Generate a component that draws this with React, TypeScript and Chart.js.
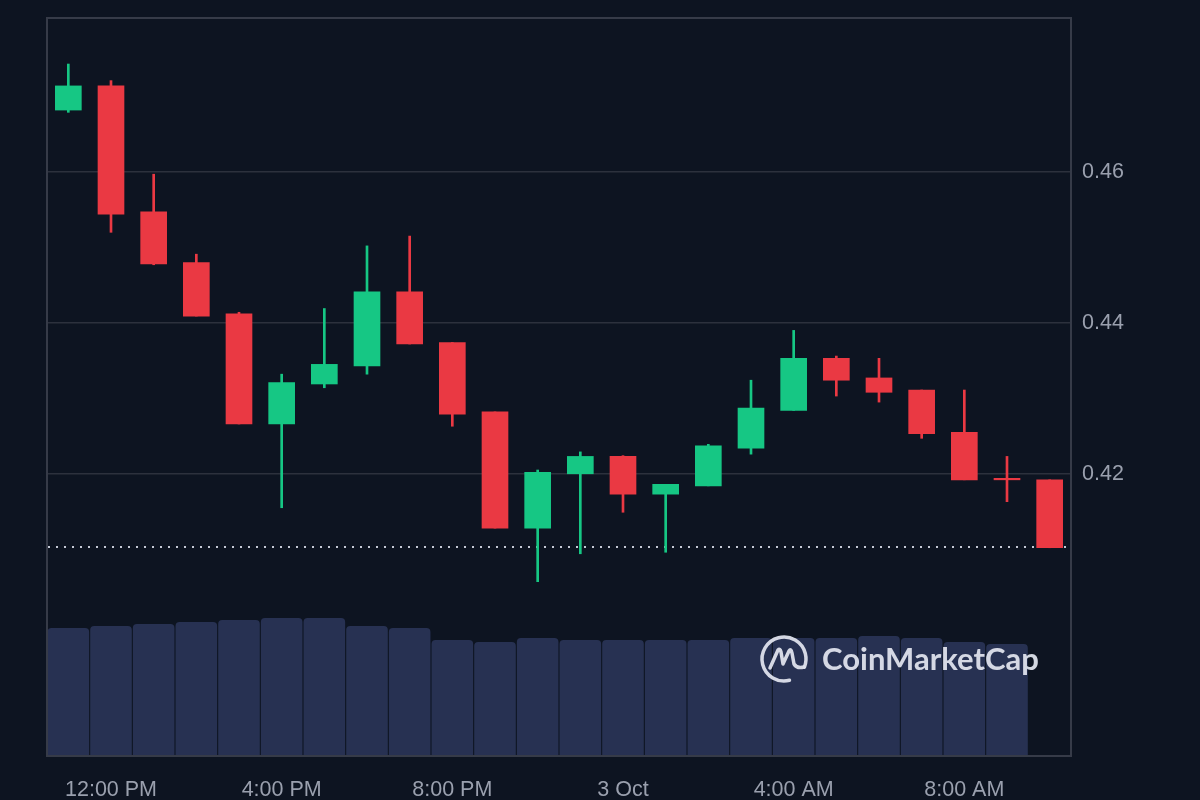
import React, { useEffect, useRef } from "react";
import { Chart, registerables } from "chart.js";

Chart.register(...registerables);

const hourLabels = [
  "11:00 AM", "12:00 PM", "1:00 PM", "2:00 PM", "3:00 PM", "4:00 PM",
  "5:00 PM", "6:00 PM", "7:00 PM", "8:00 PM", "9:00 PM", "10:00 PM",
  "11:00 PM", "3 Oct", "1:00 AM", "2:00 AM", "3:00 AM", "4:00 AM",
  "5:00 AM", "6:00 AM", "7:00 AM", "8:00 AM", "9:00 AM", "10:00 AM",
];

const opens = [0.4682, 0.4714, 0.4547, 0.448, 0.4412, 0.4266, 0.4319, 0.4343, 0.4441, 0.4374, 0.4282, 0.4128, 0.42, 0.4223, 0.4173, 0.4184, 0.4234, 0.4284, 0.4353, 0.4327, 0.4311, 0.4255, 0.4194, 0.4192];
const closes = [0.4714, 0.4544, 0.4478, 0.4409, 0.4266, 0.4321, 0.4345, 0.4441, 0.4372, 0.4279, 0.4128, 0.4202, 0.4223, 0.4173, 0.4186, 0.4237, 0.4287, 0.4353, 0.4324, 0.4308, 0.4253, 0.4192, 0.4192, 0.4102];
const highs = [0.4743, 0.4721, 0.4597, 0.4491, 0.4414, 0.4332, 0.4419, 0.4502, 0.4515, 0.4374, 0.4282, 0.4205, 0.4229, 0.4224, 0.4186, 0.4239, 0.4324, 0.439, 0.4356, 0.4353, 0.4311, 0.4311, 0.4223, 0.4192];
const lows = [0.4679, 0.452, 0.4477, 0.4409, 0.4266, 0.4155, 0.4314, 0.4332, 0.4372, 0.4263, 0.4128, 0.4057, 0.4094, 0.4149, 0.4096, 0.4184, 0.4226, 0.4284, 0.4303, 0.4295, 0.4247, 0.4192, 0.4163, 0.4102];
const volumesM = [12.8, 13.0, 13.2, 13.4, 13.6, 13.8, 13.8, 13.0, 12.8, 11.6, 11.4, 11.8, 11.6, 11.6, 11.6, 11.6, 11.8, 11.8, 11.8, 12.0, 11.8, 11.4, 11.2, null];
const priceTicks = [0.42, 0.44, 0.46];
const currentPrice = 0.4103;
const shownLabelEvery = 4;

const GREEN = "#16c784";
const RED = "#ea3943";
const BG = "#0d1421";
const GRID = "#2c313d";
const TICK = "#9aa0ae";
const VOL = "#273152";

export default function App() {
  const ref = useRef<HTMLCanvasElement | null>(null);

  useEffect(() => {
    document.body.style.margin = "0";
    document.body.style.background = BG;
    const canvas = ref.current;
    if (!canvas) return;

    const colors = opens.map((o, i) => (closes[i] >= o ? GREEN : RED));

    const bgPlugin = {
      id: "bg",
      beforeDraw(chart: any) {
        const c = chart.ctx;
        c.save();
        c.fillStyle = BG;
        c.fillRect(0, 0, chart.width, chart.height);
        c.restore();
      },
      beforeDatasetsDraw(chart: any) {
        const c = chart.ctx;
        const a = chart.chartArea;
        const y = chart.scales.y.getPixelForValue(currentPrice);
        c.save();
        c.strokeStyle = "#c5cad6";
        c.lineWidth = 2;
        c.setLineDash([2, 6]);
        c.beginPath();
        c.moveTo(a.left + 1, Math.round(y));
        c.lineTo(a.right - 4, Math.round(y));
        c.stroke();
        c.restore();
      },
      afterDraw(chart: any) {
        const c = chart.ctx;
        const a = chart.chartArea;
        c.save();
        c.strokeStyle = "#363b48";
        c.lineWidth = 2;
        c.beginPath();
        c.moveTo(a.left, a.top);
        c.lineTo(a.right, a.top);
        c.lineTo(a.right, a.bottom);
        c.lineTo(a.left, a.bottom);
        c.closePath();
        c.stroke();
        c.restore();

        // watermark
        const cx = 784, cy = 659, r = 22;
        c.save();
        c.strokeStyle = "rgba(222,226,236,0.95)";
        c.fillStyle = "rgba(222,226,236,0.95)";
        c.lineWidth = 3.5;
        c.lineCap = "round";
        c.lineJoin = "round";
        c.beginPath();
        c.arc(cx, cy, r, Math.PI * 0.42, Math.PI * 2.12);
        c.stroke();
        c.beginPath();
        c.moveTo(cx - 14, cy + 9);
        c.lineTo(cx - 6, cy - 9);
        c.quadraticCurveTo(cx - 4, cy - 11, cx - 3, cy - 7);
        c.lineTo(cx - 1, cy + 5);
        c.lineTo(cx + 5, cy - 8);
        c.quadraticCurveTo(cx + 7, cy - 11, cx + 8, cy - 6);
        c.lineTo(cx + 10, cy + 5);
        c.quadraticCurveTo(cx + 13, cy + 10, cx + 20, cy + 8);
        c.stroke();
        c.font = "bold 28px Lato, 'Open Sans', sans-serif";
        const w = c.measureText("CoinMarketCap").width;
        const size = 28 * (217 / w);
        c.font = `bold ${size}px Lato, 'Open Sans', sans-serif`;
        c.textBaseline = "alphabetic";
        c.textAlign = "left";
        c.fillText("CoinMarketCap", 822, 670);
        c.restore();
      },
    };

    const chart = new Chart(canvas, {
      type: "bar",
      data: {
        labels: hourLabels,
        datasets: [
          {
            label: "Volume",
            data: volumesM as any,
            yAxisID: "yVol",
            backgroundColor: VOL,
            borderWidth: 0,
            borderRadius: { topLeft: 4, topRight: 4, bottomLeft: 0, bottomRight: 0 },
            borderSkipped: false,
            barPercentage: 0.975,
            categoryPercentage: 1,
            grouped: false,
            order: 3,
          } as any,
          {
            label: "Wick",
            data: lows.map((l, i) => [l, highs[i]]) as any,
            yAxisID: "y",
            backgroundColor: colors,
            borderWidth: 0,
            barThickness: 2,
            grouped: false,
            order: 2,
          } as any,
          {
            label: "Body",
            data: opens.map((o, i) => [o, closes[i]]) as any,
            yAxisID: "y",
            backgroundColor: colors,
            borderWidth: 0,
            barThickness: 26,
            grouped: false,
            order: 1,
          } as any,
        ],
      },
      options: {
        animation: false,
        responsive: false,
        devicePixelRatio: 1,
        layout: { padding: { left: 47, top: 18, right: 0, bottom: 0 } },
        plugins: { legend: { display: false }, tooltip: { enabled: false } },
        scales: {
          x: {
            offset: true,
            grid: { display: false, drawTicks: false },
            border: { display: false },
            ticks: {
              autoSkip: false,
              maxRotation: 0,
              padding: 21,
              color: TICK,
              font: { family: "'Liberation Sans', Arial, sans-serif", size: 21.5 },
              callback: (_v: any, i: number) => (i % shownLabelEvery === 1 ? hourLabels[i] : ""),
            },
            afterFit: (s: any) => {
              s.height = 44;
              s.paddingLeft = 0;
              s.paddingRight = 0;
            },
          },
          y: {
            position: "right",
            min: 0.3826,
            max: 0.4804,
            grid: { color: GRID, lineWidth: 1.5, drawTicks: false },
            border: { display: false },
            afterBuildTicks: (s: any) => {
              s.ticks = priceTicks.map((v) => ({ value: v }));
            },
            ticks: {
              padding: 11,
              color: TICK,
              font: { family: "'Liberation Sans', Arial, sans-serif", size: 21.5 },
              callback: (v: any) => Number(v).toFixed(2),
            },
            afterFit: (s: any) => {
              s.width = 129;
              s.paddingTop = 0;
              s.paddingBottom = 0;
            },
          },
          yVol: {
            display: false,
            min: 0,
            max: 73.8,
          },
        },
      },
      plugins: [bgPlugin],
    } as any);

    return () => chart.destroy();
  }, []);

  return (
    <div style={{ width: 1200, height: 800, background: BG }}>
      <canvas ref={ref} width={1200} height={800} style={{ display: "block" }} />
    </div>
  );
}
